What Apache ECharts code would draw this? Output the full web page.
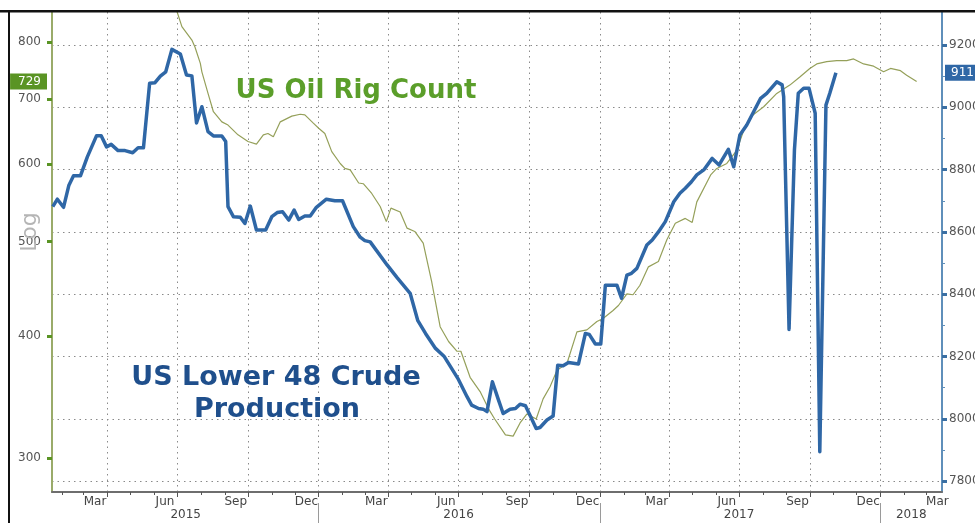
<!DOCTYPE html>
<html>
<head>
<meta charset="utf-8">
<script src="https://cdn.jsdelivr.net/npm/echarts@6/dist/echarts.min.js"></script>
<style>
html,body{margin:0;padding:0;background:#fff;}
#chart{width:975px;height:523px;}
</style>
</head>
<body>
<div id="chart"></div>
<script>
// ---- Data ----
const prodDates = ['2015-01-20','2015-01-26','2015-02-03','2015-02-10','2015-02-16','2015-02-25','2015-03-06','2015-03-18','2015-03-24','2015-03-31',
'2015-04-06','2015-04-15','2015-04-24','2015-05-04','2015-05-11','2015-05-18','2015-05-26','2015-06-02','2015-06-09','2015-06-16',
'2015-06-24','2015-07-05','2015-07-13','2015-07-20','2015-07-26','2015-08-02','2015-08-10','2015-08-17','2015-08-28','2015-09-02',
'2015-09-05','2015-09-12','2015-09-21','2015-09-27','2015-10-04','2015-10-12','2015-10-24','2015-11-01','2015-11-08','2015-11-15',
'2015-11-23','2015-11-30','2015-12-06','2015-12-14','2015-12-21','2015-12-29','2016-01-11','2016-01-22','2016-02-01','2016-02-15',
'2016-02-24','2016-03-01','2016-03-08','2016-03-30','2016-04-12','2016-04-29','2016-05-09','2016-05-19','2016-06-01','2016-06-12',
'2016-06-30','2016-07-12','2016-07-18','2016-07-27','2016-08-02','2016-08-07','2016-08-14','2016-08-22','2016-08-28','2016-09-06',
'2016-09-13','2016-09-19','2016-09-26','2016-10-03','2016-10-10','2016-10-15','2016-10-24','2016-11-01','2016-11-07','2016-11-14',
'2016-11-21','2016-12-04','2016-12-13','2016-12-18','2016-12-26','2017-01-02','2017-01-08','2017-01-23','2017-01-29','2017-02-05',
'2017-02-11','2017-02-18','2017-03-03','2017-03-10','2017-03-18','2017-03-27','2017-04-07','2017-04-15','2017-04-22','2017-04-30',
'2017-05-07','2017-05-16','2017-05-27','2017-06-05','2017-06-17','2017-06-24','2017-07-02','2017-07-11','2017-07-29','2017-08-06',
'2017-08-19','2017-08-26','2017-08-28','2017-09-04','2017-09-11','2017-09-16','2017-09-23','2017-09-30','2017-10-08','2017-10-14',
'2017-10-22','2017-10-27','2017-11-04'];
const prodValues = [8681,8705,8679,8750,8780,8780,8841,8909,8909,8873,
8881,8861,8861,8854,8870,8870,9077,9079,9100,9114,
9186,9171,9104,9101,8950,9002,8922,8908,8908,8890,
8681,8649,8647,8627,8683,8606,8606,8649,8662,8665,
8638,8670,8640,8651,8651,8679,8705,8700,8700,8617,
8583,8572,8568,8494,8453,8403,8315,8274,8226,8201,
8130,8071,8044,8033,8031,8023,8119,8060,8017,8031,
8033,8047,8042,8006,7969,7972,7996,8009,8172,8170,
8181,8176,8274,8271,8240,8240,8429,8429,8387,8461,
8467,8483,8558,8574,8600,8633,8697,8724,8740,8761,
8783,8799,8836,8815,8865,8809,8911,8943,9029,9045,
9082,9072,9034,8287,8863,9045,9061,9061,8981,7894,
9007,9045,9111];

const rigDates = ['2015-06-22','2015-06-30','2015-07-07','2015-07-20','2015-07-24','2015-07-31','2015-08-02','2015-08-10','2015-08-17','2015-08-28',
'2015-09-05','2015-09-18','2015-10-01','2015-10-12','2015-10-21','2015-10-27','2015-11-03','2015-11-12','2015-11-27','2015-12-08',
'2015-12-14','2015-12-25','2016-01-01','2016-01-09','2016-01-18','2016-01-29','2016-02-04','2016-02-11','2016-02-22','2016-02-28',
'2016-03-10','2016-03-21','2016-03-29','2016-04-04','2016-04-16','2016-04-25','2016-05-05','2016-05-16','2016-05-27','2016-06-07',
'2016-06-18','2016-06-29','2016-07-04','2016-07-16','2016-07-29','2016-08-09','2016-08-17','2016-08-31','2016-09-10','2016-09-19',
'2016-09-28','2016-10-10','2016-10-19','2016-10-28','2016-11-06','2016-11-19','2016-12-02','2016-12-15','2016-12-28','2017-01-05',
'2017-01-18','2017-01-25','2017-02-05','2017-02-13','2017-02-22','2017-03-05','2017-03-18','2017-03-29','2017-04-09','2017-04-22',
'2017-05-01','2017-05-07','2017-05-25','2017-06-02','2017-06-15','2017-06-28','2017-07-07','2017-07-16','2017-08-02','2017-08-19',
'2017-09-05','2017-09-18','2017-10-01','2017-10-10','2017-10-23','2017-11-05','2017-11-18','2017-11-27','2017-12-10','2017-12-23',
'2018-01-05','2018-01-14','2018-01-27','2018-02-04','2018-02-17'];
const rigValues = [909,863,830,804,791,761,746,709,679,663,
658,643,633,629,643,645,640,663,672,675,
674,661,653,645,618,601,594,592,574,573,
560,543,524,541,536,516,512,498,455,409,
395,386,386,363,351,337,329,317,316,326,
333,329,345,355,369,375,404,406,414,417,
425,430,442,441,451,471,477,502,522,528,
523,549,585,594,601,620,650,671,687,709,
723,737,752,760,764,766,766,769,760,756,
746,752,748,740,729];

// ---- Axis ticks / labels ----
const leftTicks = [300, 400, 500, 600, 700, 800];
const rightTicks = [7800, 8000, 8200, 8400, 8600, 8800, 9000, 9200];
const rightMinorTicks = [7900, 8100, 8300, 8500, 8700, 8900, 9100];
const lastRig = 729;
const lastProd = 9111;
const quarterTicks = ['2015-04-01','2015-07-01','2015-10-01','2016-01-01','2016-04-01','2016-07-01','2016-10-01',
  '2017-01-01','2017-04-01','2017-07-01','2017-10-01','2018-01-01'];
const monthLabelPos = ['2015-03-16','2015-06-15','2015-09-15','2015-12-16','2016-03-16','2016-06-15','2016-09-15',
  '2016-12-16','2017-03-16','2017-06-15','2017-09-15','2017-12-16','2018-03-16'];
const monthTicks = ['2015-02-01','2015-03-01','2015-05-01','2015-06-01','2015-08-01','2015-09-01','2015-11-01','2015-12-01',
  '2016-02-01','2016-03-01','2016-05-01','2016-06-01','2016-08-01','2016-09-01','2016-11-01','2016-12-01',
  '2017-02-01','2017-03-01','2017-05-01','2017-06-01','2017-08-01','2017-09-01','2017-11-01','2017-12-01',
  '2018-02-01','2018-03-01'];
const yearTicks = ['2016-01-01','2017-01-01','2018-01-01'];
const yearLabelPos = ['2015-07-12','2016-07-01','2017-07-01','2018-02-10'];
const monthNames = ['Jan','Feb','Mar','Apr','May','Jun','Jul','Aug','Sep','Oct','Nov','Dec'];

const xMin = '2015-01-19', xMax = '2018-03-22';
const FONT = 'DejaVu Sans';
const ts = s => Date.parse(s + 'T00:00:00Z');

const chart = echarts.init(document.getElementById('chart'));
const xBase = { type: 'value', min: ts(xMin), max: ts(xMax), gridIndex: 0, position: 'bottom', scale: true };

chart.setOption({
  backgroundColor: '#fff',
  animation: false,
  grid: { left: 52, right: 33, top: 12, bottom: 31, containLabel: false, outerBoundsMode: 'none' },
  xAxis: [
    Object.assign({}, xBase, {
      axisLine: { show: true, lineStyle: { color: '#6e6e6e', width: 2 } },
      axisTick: { show: true, customValues: quarterTicks.map(ts), length: 5, lineStyle: { color: '#555', width: 1 } },
      axisLabel: { show: true, customValues: monthLabelPos.map(ts), margin: 4, color: '#444', fontFamily: FONT, fontSize: 12,
        formatter: v => monthNames[new Date(v).getUTCMonth()] },
      splitLine: { show: true, lineStyle: { color: '#8a8a8a', type: [1.5, 4], width: 1 } }
    }),
    Object.assign({}, xBase, {
      axisLine: { show: false },
      axisTick: { show: true, customValues: monthTicks.map(ts), length: 3, lineStyle: { color: '#555', width: 1 } },
      axisLabel: { show: false },
      splitLine: { show: false }
    }),
    Object.assign({}, xBase, {
      offset: 11,
      axisLine: { show: false },
      axisTick: { show: true, customValues: yearTicks.map(ts), length: 20, lineStyle: { color: '#9a9a9a', width: 1 } },
      axisLabel: { show: true, customValues: yearLabelPos.map(ts), margin: 6, color: '#444', fontFamily: FONT, fontSize: 12,
        formatter: v => String(new Date(v).getUTCFullYear()) },
      splitLine: { show: false }
    })
  ],
  yAxis: [
    {
      type: 'log', logBase: 10, min: 277, max: 859, position: 'left',
      axisLine: { show: true, lineStyle: { color: '#9aab6a', width: 2 } },
      axisTick: { show: true, customValues: leftTicks, length: 5, lineStyle: { color: '#5a9424', width: 3 } },
      axisLabel: { show: true, customValues: leftTicks.concat([lastRig]), margin: 5, color: '#555', fontFamily: FONT, fontSize: 12,
        formatter: v => Math.round(v) === lastRig ? '{tag|' + lastRig + '}' : '{n|' + Math.round(v) + '}',
        rich: {
          n: { color: '#555', padding: [0, 6, 0, 0], fontFamily: FONT, fontSize: 12 },
          tag: { backgroundColor: '#5a9424', color: '#fff', padding: [2, 6, 2, 8], fontFamily: FONT, fontSize: 12 }
        } },
      splitLine: { show: false }
    },
    {
      type: 'value', min: 7765, max: 9306, position: 'right',
      axisLine: { show: true, lineStyle: { color: '#5f8fba', width: 2 } },
      axisTick: { show: true, customValues: rightTicks, length: 5, lineStyle: { color: '#3a6fa3', width: 3 } },
      axisLabel: { show: true, customValues: rightTicks.concat([lastProd]), margin: 3, color: '#555', fontFamily: FONT, fontSize: 12,
        formatter: v => Math.round(v) === lastProd ? '{tag|' + lastProd + '}' : '{n|' + Math.round(v) + '}',
        rich: {
          n: { color: '#555', padding: [0, 0, 0, 4], fontFamily: FONT, fontSize: 12 },
          tag: { backgroundColor: '#2f67a6', color: '#fff', padding: [2, 6, 2, 6], fontFamily: FONT, fontSize: 12 }
        } },
      splitLine: { show: true, lineStyle: { color: '#8a8a8a', type: [1.5, 4], width: 1 } }
    },
    {
      type: 'value', min: 7765, max: 9306, position: 'right',
      axisLine: { show: false },
      axisTick: { show: true, customValues: rightMinorTicks, length: 3, lineStyle: { color: '#5f8fba', width: 1 } },
      axisLabel: { show: false },
      splitLine: { show: false }
    }
  ],
  series: [
    {
      name: 'US Oil Rig Count', type: 'line', xAxisIndex: 0, yAxisIndex: 0,
      data: rigDates.map((d, i) => [ts(d), rigValues[i]]),
      showSymbol: false, symbol: 'none', smooth: false,
      lineStyle: { color: '#95a05a', width: 1.2 }, z: 3
    },
    {
      name: 'US Lower 48 Crude Production', type: 'line', xAxisIndex: 0, yAxisIndex: 1,
      data: prodDates.map((d, i) => [ts(d), prodValues[i]]),
      showSymbol: false, symbol: 'none', smooth: false,
      lineStyle: { color: '#2f67a6', width: 3.5, join: 'round' }, z: 4
    }
  ],
  graphic: [
    { type: 'rect', shape: { x: 0, y: 10, width: 975, height: 2.5 }, style: { fill: '#111' }, z: 100 },
    { type: 'rect', shape: { x: 8, y: 10, width: 2, height: 513 }, style: { fill: '#111' }, z: 100 },
    { type: 'text', x: 356, y: 91, style: { text: 'US Oil Rig Count', font: 'bold 26px "DejaVu Sans"', fill: '#5b9e2a', align: 'center', verticalAlign: 'middle' }, z: 50 },
    { type: 'text', x: 276, y: 378, style: { text: 'US Lower 48 Crude', font: 'bold 27px "DejaVu Sans"', fill: '#1f4f8c', align: 'center', verticalAlign: 'middle' }, z: 50 },
    { type: 'text', x: 277, y: 410, style: { text: 'Production', font: 'bold 27px "DejaVu Sans"', fill: '#1f4f8c', align: 'center', verticalAlign: 'middle' }, z: 50 },
    { type: 'text', x: 30, y: 232, rotation: Math.PI / 2, style: { text: 'Log', font: '22px "DejaVu Sans"', fill: '#b5b5b5', align: 'center', verticalAlign: 'middle' }, z: 50 }
  ]
});
</script>
</body>
</html>
